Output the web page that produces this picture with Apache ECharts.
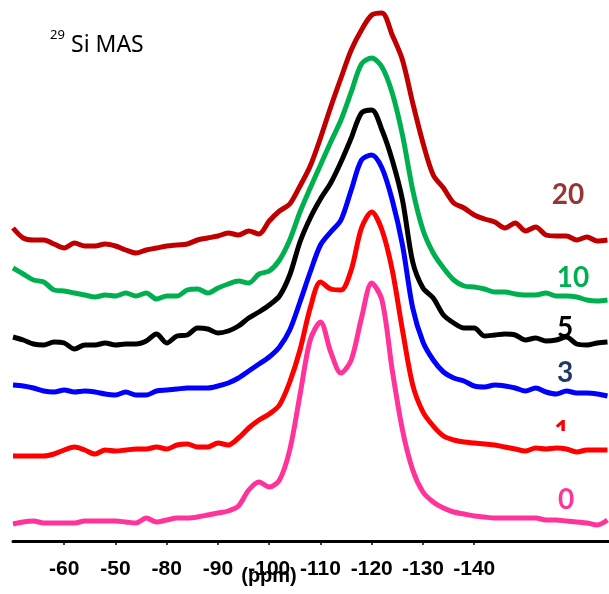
<!DOCTYPE html>
<html>
<head>
<meta charset="utf-8">
<script src="https://cdn.jsdelivr.net/npm/echarts@6/dist/echarts.min.js"></script>
<style>
    html, body { margin: 0; padding: 0; background: #fff; }
    #chart { width: 609px; height: 594px; }
</style>
</head>
<body>
<div id="chart"></div>
<script>
const ppm = [-50, -52, -54, -56, -58, -60, -62, -64, -66, -68, -70, -72, -74, -76, -78, -80, -82, -84, -86, -88,
    -90, -92, -94, -96, -98, -100, -102, -104, -106, -108, -110, -112, -114, -116, -118, -120, -122, -124, -126, -128,
    -130, -132, -134, -136, -138, -140, -142, -144, -146, -148, -150, -152, -154, -156, -158, -160, -162, -164, -166];

const tickValues = [-60, -70, -80, -90, -100, -110, -120, -130, -140];
const tickLabels = ['-60', '-50', '-80', '-90', '-100', '-110', '-120', '-130', '-140'];

const s20 = [313, 303, 301, 301, 297, 293, 298, 295, 295, 297, 295, 291, 288, 291, 293, 295, 296, 297, 301, 303,
    305, 308, 306, 310, 307, 320, 330, 337, 355, 375, 403, 434, 463, 491, 511, 526, 528, 506, 481, 438,
    398, 366, 353, 338, 333, 326, 322, 319, 313, 318, 310, 314, 306, 305, 305, 301, 304, 300, 301];
const s10 = [273, 267, 261, 259, 251, 250, 248, 246, 244, 246, 245, 248, 245, 248, 242, 245, 245, 251, 252, 248,
    253, 257, 260, 258, 267, 270, 281, 301, 329, 353, 376, 399, 421, 449, 477, 483, 474, 448, 406, 351,
    311, 288, 273, 261, 255, 254, 252, 249, 249, 247, 246, 246, 248, 245, 245, 244, 241, 240, 241];
const s5 = [204, 201, 197, 196, 199, 198, 192, 196, 196, 198, 196, 197, 197, 200, 207, 198, 205, 206, 213, 212,
    208, 210, 215, 223, 229, 236, 245, 266, 299, 323, 342, 358, 379, 403, 428, 431, 411, 381, 341, 279,
    253, 243, 226, 218, 213, 213, 205, 206, 207, 206, 201, 203, 200, 201, 204, 197, 196, 198, 199];
const s3 = [156, 155, 153, 150, 149, 151, 149, 150, 149, 147, 146, 149, 146, 146, 150, 151, 152, 153, 153, 153,
    155, 158, 163, 170, 177, 184, 194, 211, 239, 269, 296, 309, 321, 351, 381, 386, 373, 341, 296, 233,
    199, 181, 169, 163, 160, 155, 154, 156, 155, 153, 150, 153, 149, 147, 150, 148, 148, 147, 145];
const s1 = [85, 85, 85, 85, 87, 91, 94, 91, 87, 91, 90, 91, 92, 92, 94, 92, 96, 97, 94, 94,
    98, 96, 103, 113, 121, 127, 136, 159, 191, 233, 259, 252, 251, 271, 313, 329, 311, 271, 211, 156,
    129, 115, 105, 101, 99, 98, 97, 96, 94, 92, 90, 93, 92, 93, 92, 89, 91, 91, 91];
const s0 = [17, 19, 20, 18, 18, 18, 18, 20, 20, 20, 20, 19, 18, 23, 19, 21, 23, 23, 24, 26,
    28, 30, 35, 51, 59, 54, 61, 91, 146, 201, 219, 189, 168, 181, 223, 258, 241, 171, 111, 71,
    49, 39, 33, 29, 27, 25, 24, 23, 23, 23, 23, 23, 21, 21, 20, 19, 18, 16, 21];

const spectra = [
    { name: '20', data: s20, color: '#C00000', labelColor: '#953735', x: 568, y: 195 },
    { name: '10', data: s10, color: '#00B050', labelColor: '#00B050', x: 573, y: 278 },
    { name: '5', data: s5, color: '#000000', labelColor: '#000000', x: 565, y: 328 },
    { name: '3', data: s3, color: '#0000FF', labelColor: '#1F3864', x: 565, y: 373 },
    { name: '1', data: s1, color: '#FF0000', labelColor: '#FF0000', x: 562, y: 432 },
    { name: '0', data: s0, color: '#FF3399', labelColor: '#FF3399', x: 566, y: 500 }
];

const chart = echarts.init(document.getElementById('chart'));

const labelFont = "'Liberation Sans', Arial, sans-serif";

const graphics = spectra.map(s => ({
    type: 'text',
    z: 0,
    style: {
        x: s.x, y: s.y,
        text: s.name,
        fill: s.labelColor,
        font: "bold 28px 'Lato', 'Open Sans', sans-serif",
        align: 'center',
        verticalAlign: 'middle'
    }
}));

graphics.push(
    { type: 'rect', z: 1, shape: { x: 548, y: 431, width: 30, height: 14 }, style: { fill: '#fff' } },
    {
        type: 'text',
        style: { x: 50, y: 35, text: '29', fill: '#000', font: "13px 'Noto Sans', sans-serif", align: 'left', verticalAlign: 'middle' }
    },
    {
        type: 'text',
        style: { x: 71, y: 45, text: 'Si MAS', fill: '#000', font: "23px 'Noto Sans', sans-serif", align: 'left', verticalAlign: 'middle' }
    },
    {
        type: 'text',
        style: { x: 269, y: 576, text: '(ppm)', fill: '#000', font: 'bold 20px ' + labelFont, align: 'center', verticalAlign: 'middle' }
    }
);

chart.setOption({
    animation: false,
    grid: { left: 13, right: 0, top: 0, bottom: 53 },
    xAxis: {
        type: 'value',
        inverse: true,
        min: -166.3,
        max: -50,
        splitLine: { show: false },
        axisLine: { show: true, lineStyle: { color: '#000', width: 3 } },
        axisTick: { show: true, customValues: tickValues, length: 4, lineStyle: { color: '#000', width: 1.5 } },
        axisLabel: {
            customValues: tickValues,
            margin: 18,
            color: '#000',
            fontSize: 21,
            fontWeight: 'bold',
            fontFamily: labelFont,
            formatter: v => tickLabels[tickValues.indexOf(v)]
        }
    },
    yAxis: {
        type: 'value',
        min: 0,
        max: 541,
        show: false
    },
    series: spectra.map(s => ({
        name: s.name,
        type: 'line',
        z: 2,
        smooth: 0.3,
        showSymbol: false,
        lineStyle: { color: s.color, width: 5 },
        data: ppm.map((p, i) => [p, s.data[i]])
    })),
    graphic: graphics
});
</script>
</body>
</html>
